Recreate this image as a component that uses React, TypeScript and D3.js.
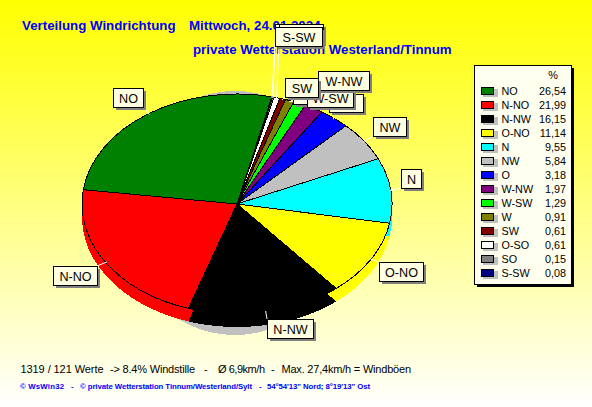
import React, { useEffect, useRef } from "react";
import * as d3 from "d3";

// wind sectors, in legend order
const sectors = ["NO", "N-NO", "N-NW", "O-NO", "N", "NW", "O", "W-NW", "W-SW", "W", "SW", "O-SO", "SO", "S-SW"];
const shares = [26.54, 21.99, 16.15, 11.14, 9.55, 5.84, 3.18, 1.97, 1.29, 0.91, 0.61, 0.61, 0.15, 0.08];
const colors = ["#008000", "#ff0000", "#000000", "#ffff00", "#00ffff", "#c0c0c0", "#0000ff", "#800080", "#00ff00", "#808000", "#800000", "#ffffff", "#808080", "#000080"];
const shareLabels = ["26,54", "21,99", "16,15", "11,14", "9,55", "5,84", "3,18", "1,97", "1,29", "0,91", "0,61", "0,61", "0,15", "0,08"];

// callout boxes, back to front: [sector, x, y, w, h]
const callouts: [string, number, number, number, number][] = [
  ["SO", 275, 24, 30, 19],
  ["O-SO", 279, 24, 44, 19],
  ["W", 293, 85, 25, 19],
  ["O", 329, 94, 34, 18],
  ["W-SW", 307, 88, 46, 19],
  ["S-SW", 275, 27, 47, 19],
  ["W-NW", 318, 71, 51, 19],
  ["SW", 285, 78, 33, 19],
  ["NW", 373, 117, 33, 19],
  ["N", 401, 169, 20, 19],
  ["O-NO", 379, 262, 44, 19],
  ["N-NW", 267, 319, 46, 19],
  ["N-NO", 53, 266, 44, 19],
  ["NO", 113, 88, 30, 19],
];

// footer line pieces: [text, x, width]
const statsLine: [string, number, number][] = [
  ["1319 / 121 Werte", 20.5, 83],
  ["-> 8.4% Windstille", 110, 85],
  ["-", 204, 3.5],
  ["Ø 6,9km/h", 218, 47],
  ["-", 271, 3.5],
  ["Max. 27,4km/h = Windböen", 281.5, 129.5],
];
const creditLine: [string, number, number][] = [
  ["© WsWin32", 20, 44],
  ["-", 71, 3],
  ["© private Wetterstation Tinnum/Westerland/Sylt", 80, 172],
  ["-", 259, 3],
  ["54°54'13\" Nord; 8°19'13\" Ost", 267, 103],
];

const cx = 237;
const cy = 204;
const rx = 155;
const ry = 110;
const depth = 13;
const startAngle = (13 * Math.PI) / 180;

const App = () => {
  const ref = useRef<SVGSVGElement>(null);

  useEffect(() => {
    const svg = d3.select(ref.current);
    svg.selectAll("*").remove();

    const grad = svg.append("defs").append("linearGradient").attr("id", "bg").attr("x1", 0).attr("y1", 0).attr("x2", 0).attr("y2", 1);
    grad.append("stop").attr("offset", "0%").attr("stop-color", "#ffff00");
    grad.append("stop").attr("offset", "100%").attr("stop-color", "#ffffff");
    svg.append("rect").attr("width", 592).attr("height", 407).attr("fill", "url(#bg)");

    const blue = "#0000ff";
    const title = svg.append("g").attr("font-family", "Liberation Sans").attr("font-weight", "bold").attr("font-size", 13.3).attr("fill", blue);
    title.append("text").attr("x", 22).attr("y", 30).text("Verteilung Windrichtung");
    title.append("text").attr("x", 189).attr("y", 30).text("Mittwoch, 24.01.2024");
    title.append("text").attr("x", 193).attr("y", 54).text("private Wetterstation Westerland/Tinnum");

    // pie, counter clockwise from the first sector
    const slices = d3.pie<number>().sort(null).startAngle(startAngle).endAngle(startAngle - 2 * Math.PI)(shares);
    const arc = d3.arc<d3.PieArcDatum<number>>().innerRadius(0).outerRadius(rx);
    const scaleY = ry / rx;

    svg.append("ellipse").attr("cx", cx - 2).attr("cy", cy + 9).attr("rx", rx - 40).attr("ry", ry + 12).attr("fill", "#c0c0c0").attr("shape-rendering", "crispEdges");

    svg.append("g").attr("transform", `translate(${cx},${cy + depth}) scale(1,${scaleY})`)
      .selectAll("path").data(slices).join("path")
      .attr("d", (d) => arc(d))
      .attr("fill", (_, i) => colors[i])
      .attr("shape-rendering", "crispEdges");

    svg.append("g").attr("transform", `translate(${cx},${cy}) scale(1,${scaleY})`)
      .selectAll("path").data(slices).join("path")
      .attr("d", (d) => arc(d))
      .attr("fill", (_, i) => colors[i])
      .attr("stroke", "#000")
      .attr("stroke-width", 1)
      .attr("vector-effect", "non-scaling-stroke")
      .attr("shape-rendering", "crispEdges");

    // leader lines
    const leaders = svg.append("g").attr("stroke", "#fff").attr("stroke-width", 1).attr("fill", "none");
    callouts.forEach(([name, x, y, w, h]) => {
      const d = slices[sectors.indexOf(name)];
      const a = (d.startAngle + d.endAngle) / 2;
      const px = cx + Math.sin(a) * rx * 0.99;
      const py = cy - Math.cos(a) * ry * 0.99;
      const bx = Math.max(x, Math.min(x + w, px));
      const by = Math.max(y, Math.min(y + h, py));
      leaders.append("line").attr("x1", px).attr("y1", py).attr("x2", bx).attr("y2", by);
    });

    const boxes = svg.append("g").attr("font-family", "Liberation Sans").attr("font-size", 12.6).selectAll("g").data(callouts).join("g");
    boxes.append("rect").attr("x", (d) => d[1] + 3).attr("y", (d) => d[2] + 3).attr("width", (d) => d[3]).attr("height", (d) => d[4]).attr("fill", "#808080").attr("shape-rendering", "crispEdges");
    boxes.append("rect").attr("x", (d) => d[1] + 0.5).attr("y", (d) => d[2] + 0.5).attr("width", (d) => d[3]).attr("height", (d) => d[4]).attr("fill", "#ffffe1").attr("stroke", "#000").attr("rx", 1).attr("shape-rendering", "crispEdges");
    boxes.append("text").attr("x", (d) => d[1] + d[3] / 2 + 0.5).attr("y", (d) => d[2] + 14.5).attr("text-anchor", "middle").attr("fill", "#000").text((d) => d[0]);

    // legend
    const lx = 474;
    const ly = 65;
    const rowY = d3.scaleLinear().domain([0, 1]).range([ly + 26, ly + 40]);
    svg.append("rect").attr("x", lx + 3).attr("y", ly + 3).attr("width", 97).attr("height", 219).attr("fill", "#000").attr("shape-rendering", "crispEdges");
    svg.append("rect").attr("x", lx + 0.5).attr("y", ly + 0.5).attr("width", 97).attr("height", 219).attr("fill", "#fffff0").attr("stroke", "#000").attr("shape-rendering", "crispEdges");
    const legend = svg.append("g").attr("font-family", "Liberation Sans").attr("font-size", 10.8).attr("fill", "#000");
    legend.append("text").attr("x", 553).attr("y", 79).attr("text-anchor", "middle").text("%");
    const rows = legend.selectAll("g").data(sectors).join("g").attr("transform", (_, i) => `translate(0,${rowY(i)})`);
    rows.append("rect").attr("x", 483).attr("y", -2).attr("width", 15).attr("height", 8).attr("fill", "#c0c0c0").attr("shape-rendering", "crispEdges");
    rows.append("rect").attr("x", 481.5).attr("y", -3.5).attr("width", 12).attr("height", 7).attr("fill", (_, i) => colors[i]).attr("stroke", "#000").attr("shape-rendering", "crispEdges");
    rows.append("text").attr("x", 501.5).attr("y", 4).text((d) => d);
    rows.append("text").attr("x", 566).attr("y", 4).attr("text-anchor", "end").text((_, i) => shareLabels[i]);

    svg.append("g").attr("font-family", "Liberation Sans").attr("font-size", 11).attr("fill", "#000")
      .selectAll("text").data(statsLine).join("text")
      .attr("x", (d) => d[1]).attr("y", 373)
      .attr("textLength", (d) => d[2]).attr("lengthAdjust", "spacing").text((d) => d[0]);
    svg.append("g").attr("font-family", "Liberation Sans").attr("font-weight", "bold").attr("font-size", 7.8).attr("fill", blue)
      .selectAll("text").data(creditLine).join("text")
      .attr("x", (d) => d[1]).attr("y", 389)
      .attr("textLength", (d) => d[2]).attr("lengthAdjust", "spacing").text((d) => d[0]);
  }, []);

  return <svg ref={ref} width={592} height={407} style={{ position: "absolute", left: 0, top: 0 }} />;
};

export default App;
